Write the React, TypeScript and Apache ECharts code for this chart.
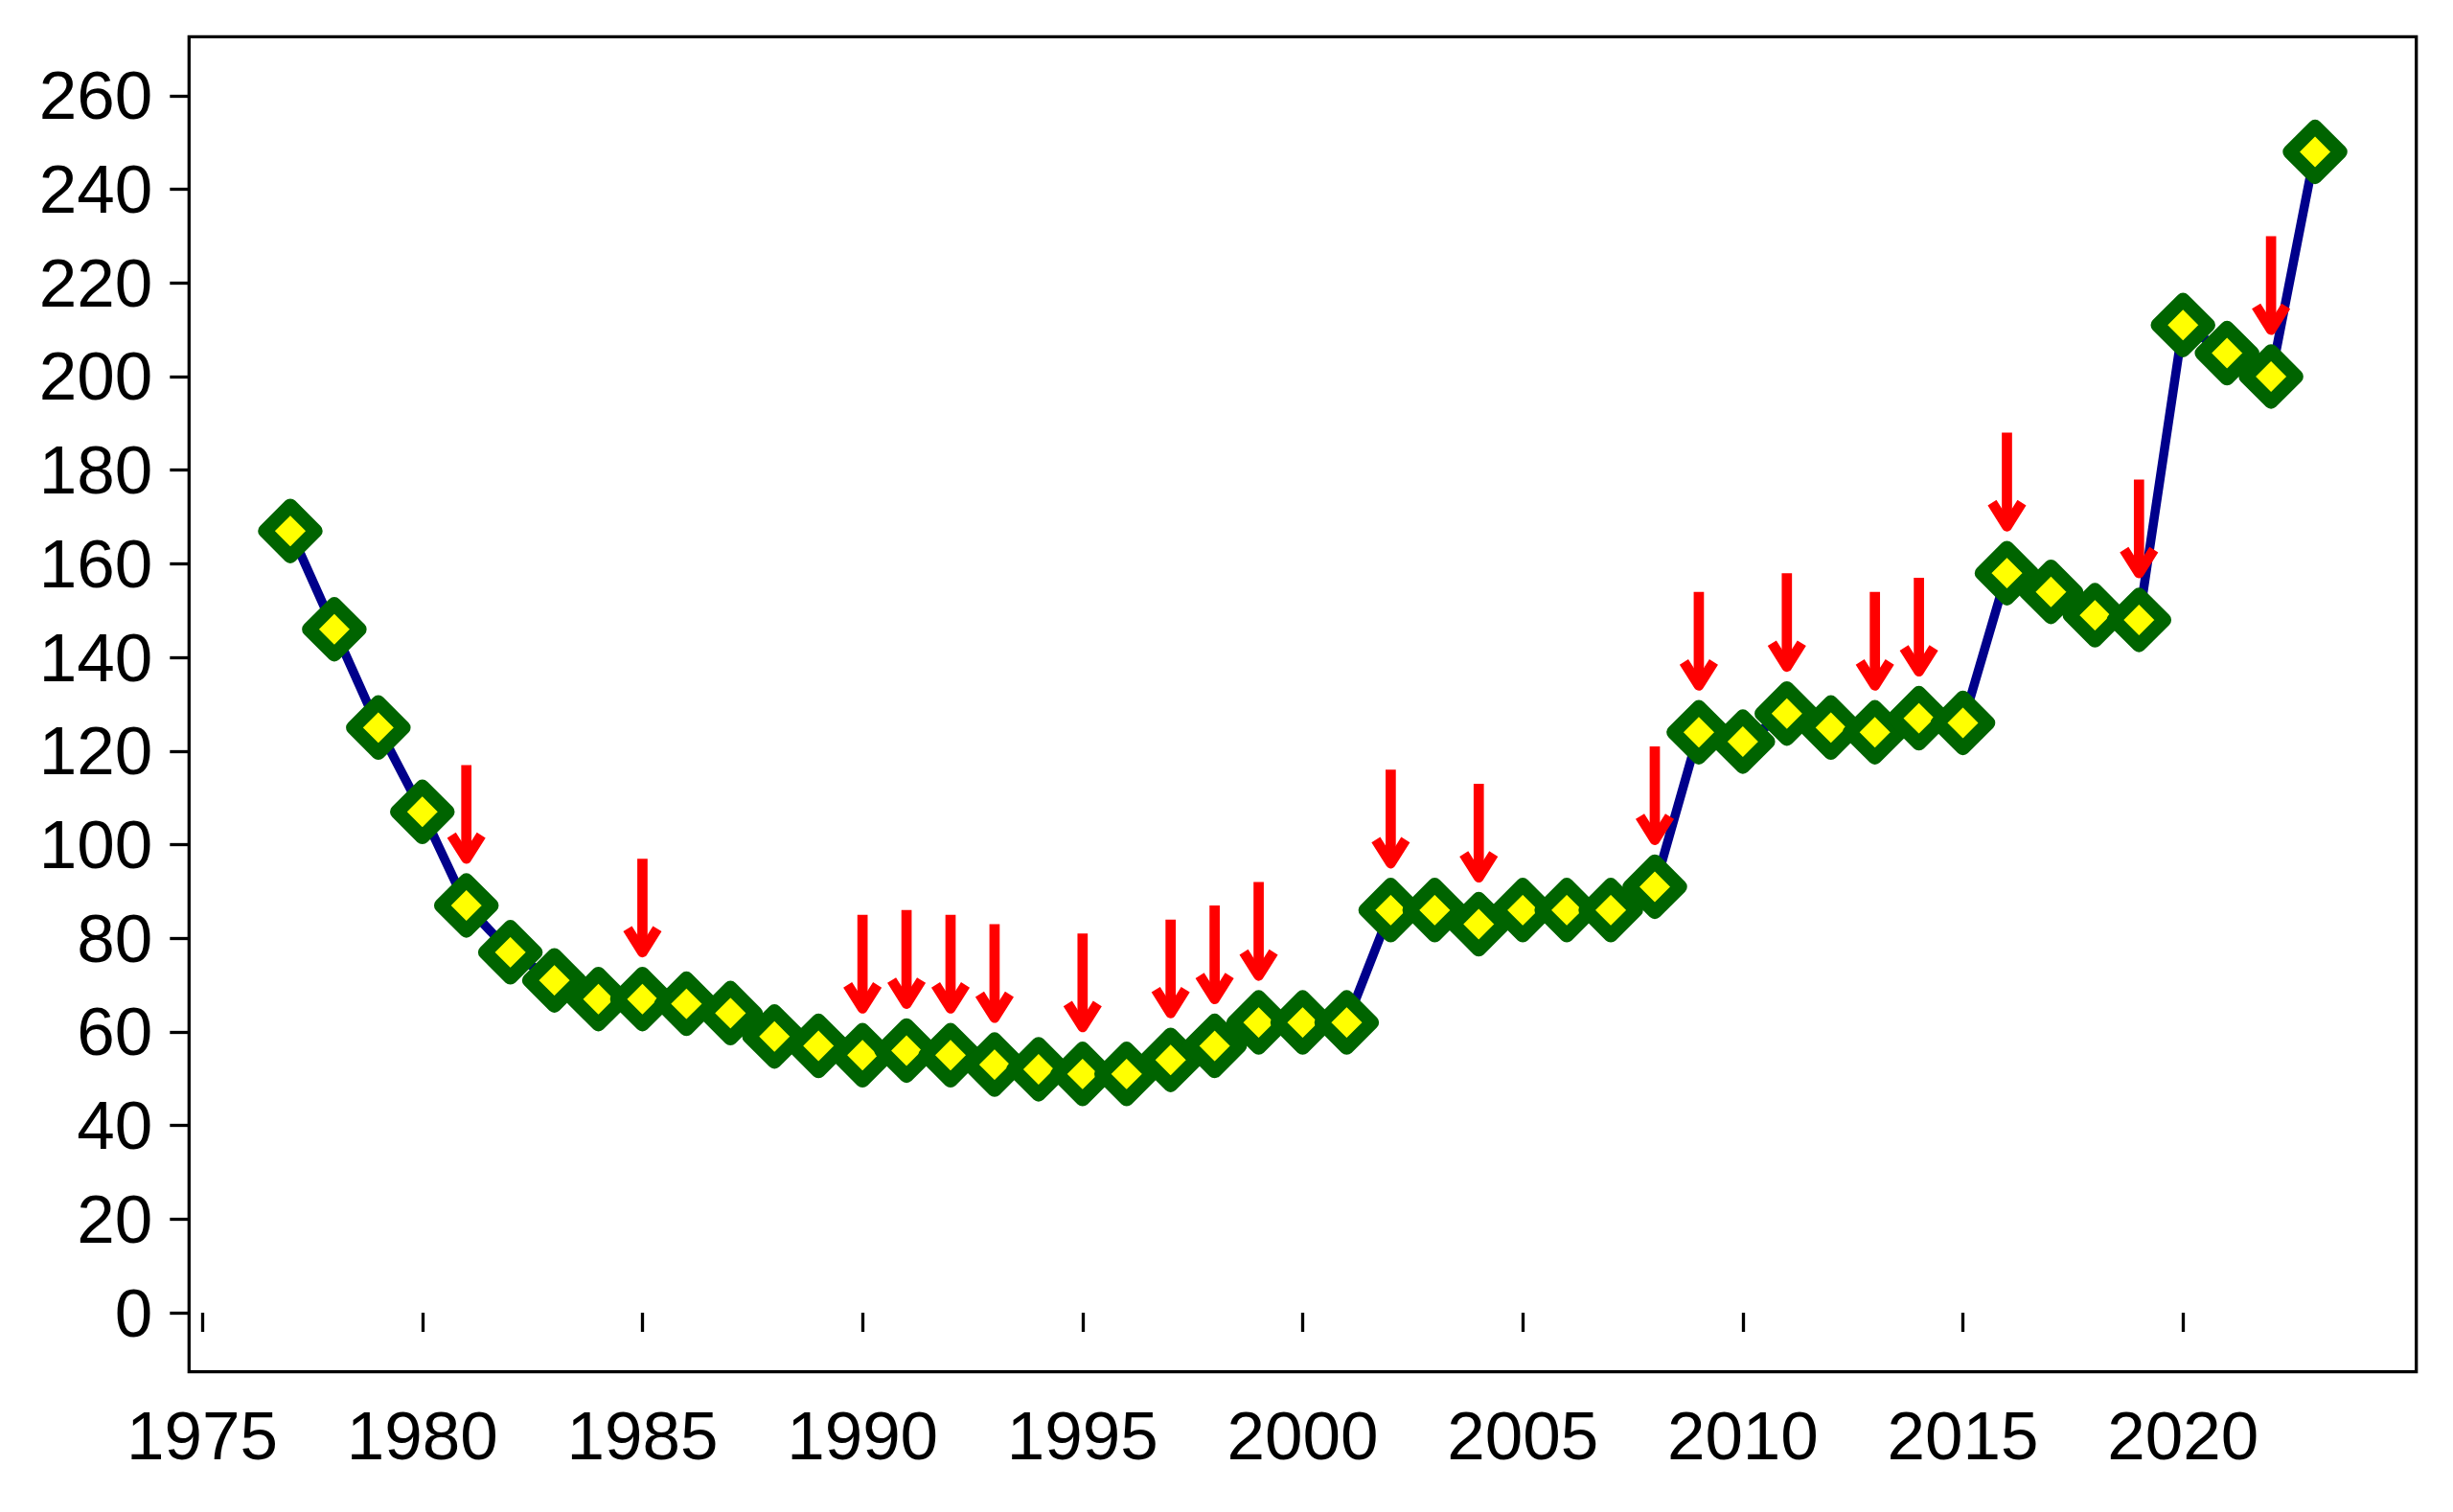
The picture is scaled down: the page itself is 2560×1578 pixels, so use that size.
import React, { useEffect, useRef } from "react";
import * as echarts from "echarts";

const YEARS = [
  1977, 1978, 1979, 1980, 1981, 1982, 1983, 1984, 1985, 1986, 1987, 1988,
  1989, 1990, 1991, 1992, 1993, 1994, 1995, 1996, 1997, 1998, 1999, 2000,
  2001, 2002, 2003, 2004, 2005, 2006, 2007, 2008, 2009, 2010, 2011, 2012,
  2013, 2014, 2015, 2016, 2017, 2018, 2019, 2020, 2021, 2022, 2023,
];
const VALUES = [
  167, 146, 125, 107, 87, 77, 71, 67, 67, 66, 64, 59,
  57, 55, 56, 55, 53, 52, 51, 51, 54, 57, 62, 62,
  62, 86, 86, 83, 86, 86, 86, 91, 124, 122, 128, 125,
  124, 127, 126, 158, 154, 149, 148, 211, 205, 200, 248,
];
const ARROW_YEARS = [
  1981, 1985, 1990, 1991, 1992, 1993, 1995, 1997, 1998, 1999,
  2002, 2004, 2008, 2009, 2011, 2013, 2014, 2016, 2019, 2022,
];
const ARROW_TAIL_OFFSET = 30;
const ARROW_TIP_OFFSET = 10;

const X_TICKS = [1975, 1980, 1985, 1990, 1995, 2000, 2005, 2010, 2015, 2020];
const Y_TICKS = [0, 20, 40, 60, 80, 100, 120, 140, 160, 180, 200, 220, 240, 260];
const X_MIN = 1974.7;
const X_MAX = 2025.3;
const Y_MIN = -12.63;
const Y_MAX = 272.6;

const FONT = "'Liberation Sans', Arial, Helvetica, sans-serif";

export default function App() {
  const ref = useRef<HTMLDivElement>(null);

  useEffect(() => {
    if (!ref.current) return;
    const chart = echarts.init(ref.current, null, { renderer: "svg" });

    const lineData = YEARS.map((y, i) => [y, VALUES[i]]);
    const arrowData = ARROW_YEARS.map((y) => [y, VALUES[YEARS.indexOf(y)]]);

    const axisCommon = {
      axisLine: { show: false },
      splitLine: { show: false },
      axisTick: {
        show: true,
        length: 20,
        lineStyle: { color: "#000", width: 3.3 },
      },
    };

    chart.setOption({
      animation: false,
      backgroundColor: "#fff",
      grid: {
        left: 197.3,
        top: 38.3,
        right: 38.3,
        bottom: 146.3,
        show: true,
        borderColor: "#000",
        borderWidth: 3.3,
        containLabel: false,
        outerBoundsMode: "none",
      },
      xAxis: {
        type: "value",
        min: X_MIN,
        max: X_MAX,
        ...axisCommon,
        axisTick: { ...axisCommon.axisTick, customValues: X_TICKS },
        axisLabel: {
          customValues: X_TICKS,
          fontFamily: FONT,
          fontSize: 71,
          color: "#000",
          margin: 31,
          formatter: (v: number) => String(v),
        },
      },
      yAxis: {
        type: "value",
        min: Y_MIN,
        max: Y_MAX,
        ...axisCommon,
        axisTick: { ...axisCommon.axisTick, customValues: Y_TICKS },
        axisLabel: {
          customValues: Y_TICKS,
          fontFamily: FONT,
          fontSize: 71,
          color: "#000",
          margin: 38,
          formatter: (v: number) => String(v),
        },
      },
      series: [
        {
          type: "line",
          data: lineData,
          z: 2,
          lineStyle: { color: "#00008B", width: 9.5 },
          symbol: "diamond",
          symbolSize: 52.8,
          showSymbol: true,
          itemStyle: {
            color: "#FFFF00",
            borderColor: "#006400",
            borderWidth: 14.7,
            borderJoin: "round",
          },
          emphasis: { disabled: true },
        },
        {
          type: "custom",
          z: 5,
          data: arrowData,
          silent: true,
          renderItem: (params: any, api: any) => {
            const x = api.value(0);
            const v = api.value(1);
            const tail = api.coord([x, v + ARROW_TAIL_OFFSET]);
            const tip = api.coord([x, v + ARROW_TIP_OFFSET]);
            const red = "#FF0000";
            const lw = 10.7;
            return {
              type: "group",
              children: [
                {
                  type: "line",
                  shape: { x1: tail[0], y1: tail[1], x2: tip[0], y2: tip[1] },
                  style: { stroke: red, lineWidth: lw, lineCap: "butt" },
                },
                {
                  type: "polyline",
                  shape: {
                    points: [
                      [tip[0] - 15.5, tip[1] - 24.6],
                      [tip[0], tip[1]],
                      [tip[0] + 15.5, tip[1] - 24.6],
                    ],
                  },
                  style: {
                    stroke: red,
                    fill: null,
                    lineWidth: lw,
                    lineJoin: "round",
                    lineCap: "butt",
                  },
                },
              ],
            };
          },
        },
      ],
    });

    return () => chart.dispose();
  }, []);

  return (
    <div
      ref={ref}
      style={{ position: "absolute", left: 0, top: 0, width: 2560, height: 1578 }}
    />
  );
}
